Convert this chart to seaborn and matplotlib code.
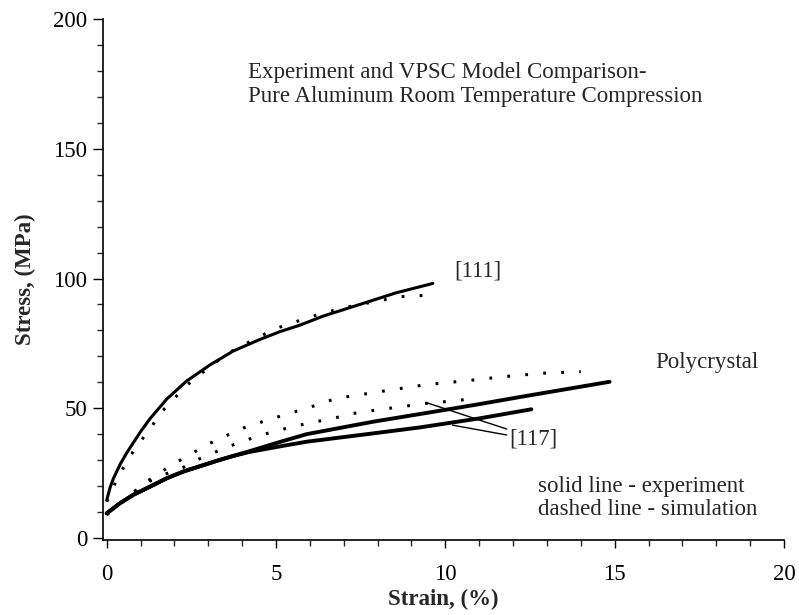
import numpy as np
import pandas as pd
import matplotlib
matplotlib.use("Agg")
import matplotlib.pyplot as plt
import seaborn as sns

# ---- data ----
x111_exp = [0, 0.1, 0.2, 0.4, 0.6, 0.8, 1.0, 1.28, 1.77, 2.36, 3.05, 3.73, 4.52, 5.11, 5.7, 6.39, 7.57, 8.55, 9.63]
y111_exp = [14.6, 19.5, 23, 28.5, 33, 37, 41, 46, 53.5, 60.5, 66.7, 72, 76.5, 79.5, 82, 85.5, 90.4, 94.5, 98.1]

x111_sim = [0, 0.18, 0.29, 0.54, 0.78, 1.03, 1.33, 1.57, 1.92, 2.26, 2.8, 3.3, 3.78, 4.13, 4.91, 5.26, 6.05, 6.44, 7.0, 7.6, 8.2, 8.7, 9.05, 9.45]
y111_sim = [14, 18.5, 23, 28, 33.3, 37.8, 42.9, 48, 52.5, 57.7, 63.5, 68.5, 72.7, 75, 80.2, 82, 85.3, 86.8, 88.7, 90.3, 91.8, 93, 93.3, 93.5]

xpoly_exp = [0, 0.39, 0.78, 1.28, 1.77, 2.26, 2.76, 3.24, 3.73, 4.23, 5.11, 5.9, 7.86, 9.54, 11.01, 12.19, 14.85]
ypoly_exp = [9.5, 13.4, 16.6, 19.8, 23, 25.6, 27.7, 29.7, 31.6, 33.5, 37.0, 40.0, 44.8, 48.4, 51.6, 54.3, 60.2]

xpoly_sim = [0, 0.5, 1.13, 1.89, 3.0, 3.78, 4.13, 4.91, 6.05, 6.78, 7.57, 8.36, 9.44, 10.62, 11.75, 12.88, 14.0]
ypoly_sim = [9, 14.5, 21.3, 27.9, 36.2, 41, 42.9, 46.1, 50.6, 53.8, 55.4, 57, 59.1, 60.6, 62.2, 63.5, 64.1]

x117_exp = [0, 0.39, 0.78, 1.28, 1.77, 2.26, 2.76, 3.24, 3.73, 4.23, 5.11, 5.9, 7.86, 9.24, 11.01, 12.54]
y117_exp = [9.5, 13.4, 16.6, 19.8, 23, 25.6, 27.7, 29.7, 31.6, 33.2, 35.3, 37.1, 40.3, 42.6, 46.1, 49.6]

x117_sim = [0, 0.5, 1.13, 1.6, 2.26, 2.65, 3.42, 3.78, 4.13, 4.91, 5.7, 6.44, 6.78, 7.18, 7.96, 8.7, 9.44, 10.22, 10.62]
y117_sim = [9, 14.5, 21.0, 24.0, 27.2, 30, 34.3, 36.1, 37.8, 41, 43.5, 45.5, 46.4, 47.8, 49.3, 50.6, 51.9, 52.8, 53.4]

xticks = [0, 5, 10, 15, 20]
yticks = [0, 50, 100, 150, 200]

sns.set_style("ticks")
plt.rcParams["font.family"] = ["Liberation Serif", "DejaVu Serif"]

fig = plt.figure(figsize=(7.99, 6.15), dpi=100)
ax = fig.add_axes([103 / 799, 1 - 540 / 615, (784 - 103) / 799, (540 - 19) / 615])

solid = dict(color="black", estimator=None, sort=False, ax=ax, legend=False)
sns.lineplot(x=x111_exp, y=y111_exp, linewidth=2.2, **solid)
sns.lineplot(x=xpoly_exp, y=ypoly_exp, linewidth=2.8, **solid)
sns.lineplot(x=x117_exp, y=y117_exp, linewidth=2.8, **solid)

for xs, ys in [(x111_sim, y111_sim), (xpoly_sim, ypoly_sim), (x117_sim, y117_sim)]:
    l = sns.lineplot(x=xs, y=ys, linewidth=2.2, **solid)
    l.lines[-1].set_dashes((0.9, 5.0))

ax.set_xlim(-0.11, 20)
ax.set_ylim(-0.77, 200)
ax.set_xticks(xticks)
ax.set_yticks(yticks)
ax.set_xticks(np.arange(0, 21, 1), minor=True)
ax.set_yticks(np.arange(0, 201, 10), minor=True)
ax.tick_params(axis="x", which="major", direction="out", length=6, width=1, pad=11, labelsize=16.5, colors="black")
ax.tick_params(axis="x", which="minor", direction="out", length=4, width=1)
ax.tick_params(axis="y", which="major", direction="out", length=7.5, width=1, pad=4, labelsize=16.5, colors="black")
ax.tick_params(axis="y", which="minor", direction="out", length=4, width=1)
for s in ["top", "right"]:
    ax.spines[s].set_visible(False)
for s in ["left", "bottom"]:
    ax.spines[s].set_color("black")
    ax.spines[s].set_linewidth(1.2)

ax.set_xlabel("Strain, (%)", fontsize=16.5, fontweight="bold", labelpad=3)
ax.set_ylabel("Stress, (MPa)", fontsize=16.5, fontweight="bold", labelpad=12)

fs = 16.5
ax.text(4.17, 179.2, "Experiment and VPSC Model Comparison-", fontsize=fs, va="center", ha="left")
ax.text(4.17, 170.0, "Pure Aluminum Room Temperature Compression", fontsize=fs, va="center", ha="left")
ax.text(10.25, 103, "[111]", fontsize=fs, va="center", ha="left")
ax.text(16.2, 67.8, "Polycrystal", fontsize=fs, va="center", ha="left")
ax.text(11.9, 38, "[117]", fontsize=fs, va="center", ha="left")
ax.text(12.75, 19.7, "solid line - experiment", fontsize=fs, va="center", ha="left")
ax.text(12.75, 10.8, "dashed line - simulation", fontsize=fs, va="center", ha="left")

ax.plot([9.48, 11.81], [52.0, 42.0], color="black", linewidth=1)
ax.plot([10.21, 11.81], [43.5, 39.7], color="black", linewidth=1)

fig.savefig("out.png", dpi=100)
